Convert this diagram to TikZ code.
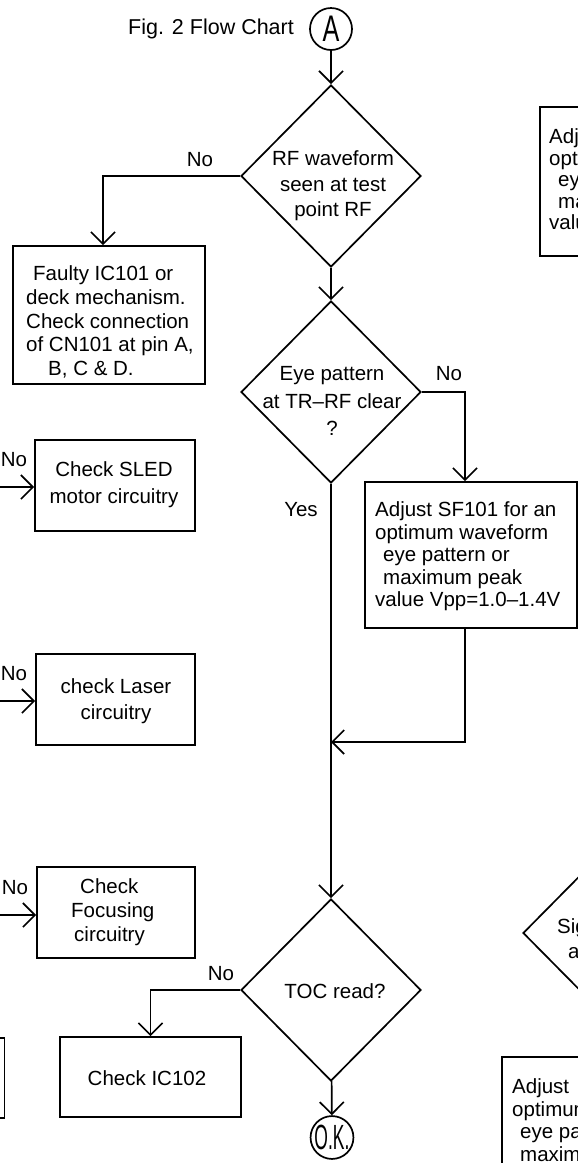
\documentclass[tikz,border=0pt]{standalone}
\usepackage{fontspec}
\setmainfont{Liberation Sans}
\usepackage{graphicx}
\usetikzlibrary{shapes.geometric,arrows.meta,calc}
\tikzset{
  ln/.style={line width=1.7pt},
  arr/.style={ln, -{Straight Barb[length=12pt,width=24pt]}},
  boxnode/.style={draw, ln, rectangle, inner sep=0pt},
  dia/.style={draw, ln, diamond, inner sep=0pt, minimum width=180pt, minimum height=182pt},
  txt/.style={inner sep=0pt, font=\fontsize{20.5}{#1}\selectfont},
  txt/.default=24,
  term/.style={draw, ln, circle, minimum size=42pt, inner sep=0pt}
}
\begin{document}
\begin{tikzpicture}[x=1pt,y=-1pt]
\useasboundingbox (0,0) rectangle (578,1163);
\clip (0,0) rectangle (578,1163);

% title and start
\node[txt, font=\fontsize{21.5}{24}\selectfont] (title) at (211,29) {Fig. 2 Flow Chart};
\node[term] (A) at (331,29) {\scalebox{0.68}[1]{\fontsize{37}{37}\selectfont A}};

% first decision
\node[dia] (d1) at (331,176) {};
\node[txt=25.5, align=center] (d1t) at (333,186) {RF waveform\\seen at test\\point RF};
\node[txt] (no1) at (200,160) {No};
\node[boxnode, minimum width=192pt, minimum height=138pt] (faulty) at (109,315) {};
\node[txt=23.7, align=left, anchor=west] (faultyt) at (26,322)
  {\hspace*{7pt}Faulty IC101 or\\deck mechanism.\\Check connection\\of CN101 at pin A,\\\hspace*{22pt}B, C \& D.};

% second decision
\node[dia] (d2) at (331,392) {};
\node[txt=27.5, align=center] (d2t) at (332,401) {Eye pattern\\at TR–RF clear\\?};
\node[txt] (no2) at (449,374) {No};
\node[txt] (yes) at (301,510) {Yes};
\node[boxnode, minimum width=212pt, minimum height=146pt] (sf) at (471,555) {};
\node[txt=22.5, align=left, anchor=west] (sft) at (375,556.5)
  {Adjust SF101 for an\\optimum waveform\\\hspace*{8pt}eye pattern or\\\hspace*{8pt}maximum peak\\value Vpp=1.0–1.4V};

% left column boxes
\node[boxnode, minimum width=160pt, minimum height=91pt] (sled) at (115,485.5) {};
\node[txt=27, align=center] (sledt) at (114,485) {Check SLED\\motor circuitry};
\node[txt] (no3) at (14,460) {No};
\coordinate (in1) at (0,487);

\node[boxnode, minimum width=159pt, minimum height=91pt] (laser) at (115.5,699.5) {};
\node[txt=26, align=center] (lasert) at (116,701.5) {check Laser\\circuitry};
\node[txt] (no4) at (14,674) {No};
\coordinate (in2) at (0,701);

\node[boxnode, minimum width=158pt, minimum height=91pt] (focus) at (116,912.5) {};
\node[txt=24, align=left, anchor=west] (focust) at (71,912.5)
  {\hspace*{9pt}Check\\Focusing\\\hspace*{3pt}circuitry};
\node[txt] (no5) at (15,888) {No};
\coordinate (in3) at (0,915);

% third decision
\node[dia] (d3) at (331,990) {};
\node[txt] (d3t) at (335,991) {TOC read?};
\node[txt] (no6) at (221,974) {No};
\node[boxnode, minimum width=181pt, minimum height=80pt] (ic102) at (150.5,1077) {};
\node[txt] (ic102t) at (147,1078) {Check IC102};
\node[boxnode, minimum width=100pt, minimum height=80pt] (leftbox) at (-45.5,1078) {};
\node[term] (ok) at (332,1137.5) {\scalebox{0.5}[1]{\fontsize{35}{35}\selectfont O.K.}};

% partial elements at the right edge
\node[boxnode, minimum width=213pt, minimum height=149pt] (sf2) at (646.5,181.5) {};
\node[txt=21.5, align=left, anchor=west] (sf2t) at (549,179.5)
  {Adj\\opt\\\hspace*{9pt}ey\\\hspace*{9pt}ma\\valu};
\node[dia] (d4) at (613,933) {};
\node[txt=25, align=left, anchor=west] (d4t) at (557,939) {Sig\\\hspace*{11pt}a};
\node[boxnode, minimum width=213pt, minimum height=146pt] (sf3) at (608.5,1130) {};
\node[txt=22.5, align=left, anchor=west] (sf3t) at (512,1120)
  {Adjust\\optimum\\\hspace*{8pt}eye pa\\\hspace*{8pt}maxim};

% connectors
\coordinate (join) at (331,742);
\draw[arr] (A) -- (d1);
\draw[arr] (d1.west) -| ([xshift=-6pt]faulty.north);
\draw[arr] (d1) -- (d2);
\draw[arr] (d2.east) -| ([xshift=-6pt]sf.north);
\draw[arr] (d2) -- (d3);
\draw[arr] ([xshift=-6pt]sf.south) |- (join);
\draw[arr] (d3.west) -| (ic102.north);
\draw[arr] (d3) -- (ok);
\draw[arr] (in1) -- (in1 -| sled.west);
\draw[arr] (in2) -- (in2 -| laser.west);
\draw[arr] (in3) -- (in3 -| focus.west);
\end{tikzpicture}
\end{document}
